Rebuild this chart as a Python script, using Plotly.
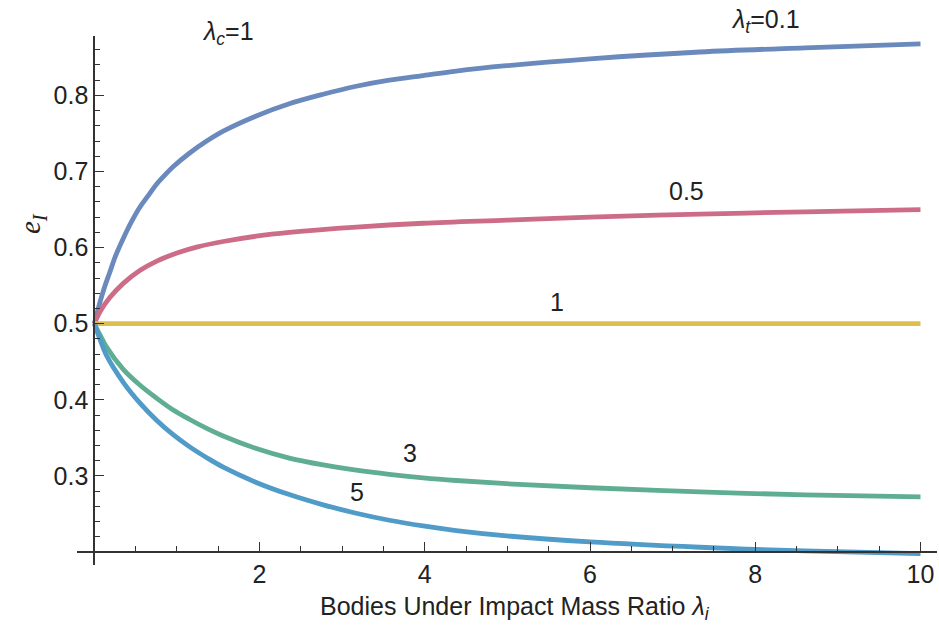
import plotly.graph_objects as go

# ---- data ----
x_blue = [0, 0.07, 0.12, 0.185, 0.26, 0.35, 0.45, 0.55, 0.65, 0.75, 0.85, 0.95, 1.15, 1.36, 1.56, 1.96, 2.36, 2.77, 3.17, 3.57, 3.98, 4.38, 4.99, 6.0, 7.33, 8.6, 10]
y_blue = [0.5, 0.529, 0.547, 0.567, 0.590, 0.612, 0.634, 0.653, 0.668, 0.683, 0.695, 0.706, 0.724, 0.740, 0.753, 0.773, 0.789, 0.8015, 0.812, 0.820, 0.826, 0.832, 0.839, 0.848, 0.857, 0.8625, 0.8676]

x_pink = [0, 0.07, 0.185, 0.35, 0.55, 0.75, 1.0, 1.25, 1.56, 1.96, 2.36, 3.17, 3.98, 4.99, 6.0, 7.33, 8.6, 10]
y_pink = [0.5, 0.516, 0.534, 0.553, 0.570, 0.582, 0.593, 0.601, 0.608, 0.615, 0.620, 0.627, 0.632, 0.636, 0.640, 0.644, 0.647, 0.650]

x_yellow = [0, 10]
y_yellow = [0.5, 0.5]

x_green = [0, 0.07, 0.144, 0.35, 0.55, 0.75, 0.95, 1.15, 1.36, 1.56, 1.96, 2.36, 2.77, 3.17, 3.57, 3.98, 4.38, 4.99, 6.0, 7.33, 8.6, 10]
y_green = [0.5, 0.485, 0.470, 0.440, 0.4195, 0.4025, 0.387, 0.3745, 0.3625, 0.3525, 0.336, 0.3235, 0.3145, 0.3075, 0.302, 0.2975, 0.294, 0.2898, 0.2845, 0.279, 0.2752, 0.2725]

x_lblue = [0, 0.07, 0.144, 0.35, 0.55, 0.75, 0.95, 1.15, 1.36, 1.56, 1.96, 2.36, 2.77, 3.17, 3.57, 3.98, 4.38, 4.99, 6.0, 7.33, 8.6, 10]
y_lblue = [0.5, 0.479, 0.459, 0.423, 0.396, 0.3735, 0.3545, 0.3385, 0.324, 0.3115, 0.2915, 0.2755, 0.262, 0.251, 0.2418, 0.2343, 0.2283, 0.2213, 0.2133, 0.2063, 0.2015, 0.198]

series_names = ["0.1", "0.5", "1", "3", "5"]
series_colors = ["#6A89BD", "#CD6C87", "#DDBF4C", "#60AE91", "#509BC8"]

x_ticks = [2, 4, 6, 8, 10]
y_ticks = [0.3, 0.4, 0.5, 0.6, 0.7, 0.8]

X_RANGE = [-0.21, 10.2]
Y_RANGE = [0.183, 0.878]

fig = go.Figure()
for xs, ys, name, col in zip([x_blue, x_pink, x_yellow, x_green, x_lblue],
                             [y_blue, y_pink, y_yellow, y_green, y_lblue],
                             series_names, series_colors):
    fig.add_trace(go.Scatter(x=xs, y=ys, mode="lines", name=name,
                             line=dict(color=col, width=4.8, shape="spline", smoothing=1.0),
                             hoverinfo="skip"))

axis_color = "#333333"
font_fam = "Liberation Sans, Arial, sans-serif"

xpos_of_yaxis = (0 - X_RANGE[0]) / (X_RANGE[1] - X_RANGE[0])
ypos_of_xaxis = (0.2 - Y_RANGE[0]) / (Y_RANGE[1] - Y_RANGE[0])

fig.update_layout(
    width=939, height=635,
    margin=dict(l=77, r=2, t=36, b=70),
    plot_bgcolor="white", paper_bgcolor="white",
    showlegend=False,
    font=dict(family=font_fam, size=25, color="#222222"),
    xaxis=dict(range=X_RANGE, showgrid=False, zeroline=False,
               showline=True, linecolor=axis_color, linewidth=2,
               anchor="free", position=ypos_of_xaxis,
               tickmode="array", tickvals=x_ticks, ticktext=[str(v) for v in x_ticks],
               ticks="inside", ticklen=9, tickwidth=1.2, tickcolor=axis_color,
               minor=dict(dtick=0.5, tick0=0, ticks="inside", ticklen=5, tickwidth=1, tickcolor=axis_color),
               tickfont=dict(size=25, family=font_fam, color="#222222")),
    yaxis=dict(range=Y_RANGE, showgrid=False, zeroline=False,
               showline=True, linecolor=axis_color, linewidth=2,
               anchor="free", position=xpos_of_yaxis,
               tickmode="array", tickvals=y_ticks, ticktext=[f"{v:.1f}" for v in y_ticks],
               ticks="inside", ticklen=9, tickwidth=1.2, tickcolor=axis_color,
               minor=dict(dtick=0.02, tick0=0.2, ticks="inside", ticklen=5, tickwidth=1, tickcolor=axis_color),
               tickfont=dict(size=25, family=font_fam, color="#222222")),
)

ann_font = dict(family=font_fam, size=25, color="#222222")


def ann(x, y, text, ref="data", **kw):
    d = dict(x=x, y=y, text=text, showarrow=False, font=kw.pop("font", ann_font),
             xanchor="center", yanchor="middle")
    if ref == "paper":
        d.update(xref="paper", yref="paper")
    else:
        d.update(xref="x", yref="y")
    d.update(kw)
    return d


annotations = [
    ann(0.509, -0.082, "Bodies Under Impact Mass Ratio <i>λ</i><sub><i>i</i></sub>", ref="paper"),
    ann(-0.052, 0.645, "<i>e</i><sub><i>I</i></sub>", ref="paper", textangle=-90,
        font=dict(family="Liberation Serif, Times New Roman, serif", size=29, color="#222222")),
    ann(0.1756, 1.006, "<i>λ</i><sub><i>c</i></sub>=1", ref="paper"),
    ann(0.80, 1.028, "<i>λ</i><sub><i>t</i></sub>=0.1", ref="paper"),
    ann(7.17, 0.6746, "0.5"),
    ann(5.6, 0.529, "1"),
    ann(3.82, 0.3306, "3"),
    ann(3.175, 0.2794, "5"),
]
fig.update_layout(annotations=annotations)

fig.write_html("out.html")
